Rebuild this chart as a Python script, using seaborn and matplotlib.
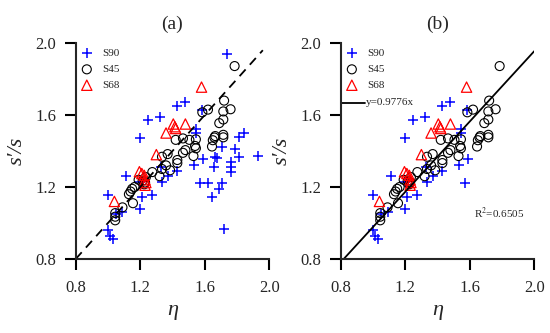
import numpy as np
import pandas as pd
import seaborn as sns
import matplotlib.pyplot as plt
from matplotlib.lines import Line2D

# S90 (blue +)
s90_eta = [1.00, 1.01, 1.03, 1.00, 1.05, 1.09, 1.11, 1.20, 1.21, 1.275,
           1.20, 1.25, 1.32, 1.43, 1.48, 1.585, 1.545, 1.545, 1.20, 1.335,
           1.37, 1.33, 1.43, 1.535, 1.59, 1.57,
           1.735, 1.815, 1.845, 1.71, 1.79, 1.815, 1.93, 1.665, 1.675, 1.76,
           1.76, 1.76, 1.655, 1.62, 1.71, 1.69, 1.645, 1.72]
s90_ratio = [0.96, 0.93, 0.91, 1.155, 1.05, 1.06, 1.26, 1.08, 1.145, 1.155,
             1.47, 1.57, 1.59, 1.65, 1.675, 1.63, 1.525, 1.50, 1.23, 1.23,
             1.26, 1.31, 1.29, 1.32, 1.355, 1.225,
             1.94, 1.48, 1.50, 1.42, 1.41, 1.365, 1.375, 1.365, 1.36, 1.34,
             1.31, 1.285, 1.31, 1.225, 1.225, 1.19, 1.145, 0.965]

# S45 (black o)
s45_eta = [1.045, 1.045, 1.045, 1.09, 1.155, 1.13, 1.14, 1.15, 1.165, 1.19,
           1.215, 1.225, 1.235, 1.23, 1.275, 1.32, 1.335, 1.36, 1.385, 1.335,
           1.37, 1.43, 1.43, 1.465, 1.48, 1.42, 1.465, 1.505, 1.53, 1.545,
           1.54, 1.545, 1.585, 1.62, 1.645, 1.65, 1.66, 1.665, 1.715, 1.715,
           1.69, 1.715, 1.715, 1.72, 1.76, 1.785]
s45_ratio = [1.055, 1.035, 1.015, 1.087, 1.11, 1.16, 1.175, 1.19, 1.20, 1.24,
             1.235, 1.215, 1.255, 1.225, 1.283, 1.26, 1.30, 1.32, 1.293, 1.368,
             1.383, 1.35, 1.333, 1.39, 1.405, 1.462, 1.47, 1.462, 1.372, 1.415,
             1.428, 1.465, 1.615, 1.63, 1.425, 1.46, 1.475, 1.483, 1.476, 1.49,
             1.555, 1.575, 1.62, 1.68, 1.632, 1.872]

# S68 (red triangles)
s68_eta = [1.04, 1.195, 1.21, 1.225, 1.23, 1.235, 1.23, 1.30, 1.36, 1.405,
           1.415, 1.42, 1.48, 1.58]
s68_ratio = [1.12, 1.285, 1.275, 1.265, 1.24, 1.225, 1.21, 1.38, 1.50, 1.55,
             1.535, 1.525, 1.55, 1.755]

slope = 0.9776
r2 = 0.6505

s90 = pd.DataFrame({"eta": s90_eta, "ratio": s90_ratio})
s45 = pd.DataFrame({"eta": s45_eta, "ratio": s45_ratio})
s68 = pd.DataFrame({"eta": s68_eta, "ratio": s68_ratio})
s90_b = s90[s90.eta < 1.6]

sns.set_style("ticks")
plt.rcParams['font.family'] = ['Liberation Serif', 'DejaVu Serif']
plt.rcParams['mathtext.fontset'] = 'stix'

fig = plt.figure(figsize=(5.5, 3.33), dpi=100)
ax_a = fig.add_axes([0.1376, 0.2222, 0.352, 0.6486])
ax_b = fig.add_axes([0.6195, 0.2222, 0.352, 0.6486])


def draw_points(ax, d90):
    sns.scatterplot(x="eta", y="ratio", data=d90, ax=ax, marker="+", s=60,
                    color="#0000ff", linewidth=1.1, label="S90")
    sns.scatterplot(x="eta", y="ratio", data=s45, ax=ax, marker="o", s=42,
                    facecolor="none", edgecolor="black", linewidth=0.8, label="S45")
    sns.scatterplot(x="eta", y="ratio", data=s68, ax=ax, marker="^", s=55,
                    facecolor="none", edgecolor="#ff0000", linewidth=0.9, label="S68")


def style_axes(ax, title):
    ax.set_xlim(0.8, 2.0)
    ax.set_ylim(0.8, 2.0)
    ax.set_xticks([0.8, 1.2, 1.6, 2.0])
    ax.set_yticks([0.8, 1.2, 1.6, 2.0])
    ax.set_xticklabels(["0.8", "1.2", "1.6", "2.0"])
    ax.set_yticklabels(["0.8", "1.2", "1.6", "2.0"])
    for sp in ["top", "right"]:
        ax.spines[sp].set_visible(False)
    for sp in ["left", "bottom"]:
        ax.spines[sp].set_linewidth(1.5)
    ax.tick_params(axis="both", direction="out", length=8, width=1.5,
                   labelsize=12, color="black")
    ax.tick_params(axis="x", pad=7)
    ax.tick_params(axis="y", pad=6)
    ax.set_xlabel("η", fontsize=16, style="italic", labelpad=4)
    ax.set_ylabel("s′/s", fontsize=16, style="italic", labelpad=6)
    ax.set_title(title, fontsize=14, pad=10)
    ax.legend(loc="upper left", frameon=False, fontsize=8, handlelength=1.0,
              handletextpad=0.9, borderaxespad=0.3, borderpad=0.2,
              labelspacing=0.55)


# (a)
draw_points(ax_a, s90)
ref = pd.DataFrame({"x": [0.8, 1.96], "y": [0.8, 1.96]})
sns.lineplot(x="x", y="y", data=ref, ax=ax_a, color="black", linewidth=1.3,
             linestyle=(0, (5, 3.5)), legend=False)
style_axes(ax_a, "(a)")

# (b)
draw_points(ax_b, s90_b)
fit = pd.DataFrame({"x": [0.8, 2.0]})
fit["y"] = slope * fit["x"]
sns.lineplot(x="x", y="y", data=fit, ax=ax_b, color="black", linewidth=1.3,
             legend=False)
ax_b.add_line(Line2D([0.8, 0.95], [1.668, 1.668], color="black", linewidth=1.3,
                     clip_on=False))
ax_b.text(0.955, 1.668, "y=%.4fx" % slope, fontsize=8, va="center", ha="left")
ax_b.text(1.627, 1.054, "R$^2$=%.4f" % r2, fontsize=8, va="center", ha="left")
style_axes(ax_b, "(b)")

fig.savefig("out.png", dpi=100)
